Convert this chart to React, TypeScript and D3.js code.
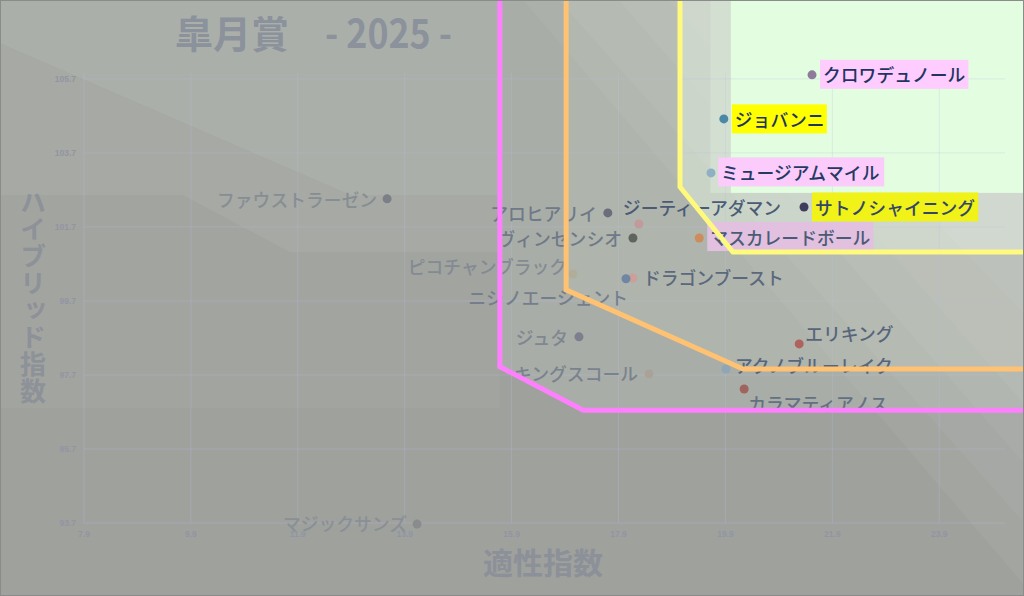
import React from 'react';
import * as d3 from 'd3';

const W = 1024;
const H = 596;

// ---- data ----
const horses = [
  'クロワデュノール', 'ジョバンニ', 'ミュージアムマイル', 'サトノシャイニング', 'マスカレードボール',
  'ジーティーアダマン', 'アロヒアリイ', 'ヴィンセンシオ', 'ピコチャンブラック', 'ドラゴンブースト',
  'ニシノエージェント', 'ファウストラーゼン', 'ジュタ', 'キングスコール', 'エリキング',
  'アクノブルーレイク', 'カラマティアノス', 'マジックサンズ',
];
const aptitude = [21.52, 19.87, 19.63, 21.37, 19.41, 18.28, 17.70, 18.17, 17.05, 18.17, 18.04, 13.57, 17.16, 18.47, 21.28, 19.91, 20.25, 14.13];
const hybrid = [105.81, 104.62, 103.16, 102.24, 101.40, 101.78, 102.08, 101.40, 100.43, 100.32, 100.30, 102.46, 98.73, 97.73, 98.54, 97.86, 97.32, 93.67];
const highlight = ['pink', 'yellow', 'pink', 'yellow', 'pink', null, null, null, null, null, null, null, null, null, null, null, null, null];

const xTicks = [7.9, 9.9, 11.9, 13.9, 15.9, 17.9, 19.9, 21.9, 23.9];
const yTicks = [93.7, 95.7, 97.7, 99.7, 101.7, 103.7, 105.7];
const xDomain = [7.9, 25.13];
const yDomain = [93.7, 105.86];

const title = '皐月賞';
const titleYear = '- 2025 -';
const xTitle = '適性指数';
const yTitle = 'ハイブリッド指数';

// zone boundary lines (data coords)
const pinkZone = [[15.68, 108.4], [15.68, 97.92], [17.24, 96.75], [25.8, 96.75]];
const orangeZone = [[16.92, 108.4], [16.92, 100.0], [20.23, 97.86], [25.8, 97.86]];
const yellowZone = [[19.05, 108.4], [19.05, 102.78], [20.04, 101.02], [25.8, 101.02]];
const greenZone = [[20.0, 102.62], [25.8, 108.4]];
const lightStrip = [[19.62, 102.62], [20.0, 108.4]];

// background shading bands (data coords)
const leftBands = [
  [[6.1, 102.56], [15.68, 102.56], [15.68, 96.81], [6.1, 96.81]],
  [[6.1, 106.81], [12.88, 102.56], [15.68, 102.56], [15.68, 101.02], [11.75, 101.02], [9.75, 102.56], [6.1, 102.56]],
  [[6.1, 108.4], [15.68, 108.4], [15.68, 102.56], [12.88, 102.56], [6.1, 106.81]],
];
const diagBands = [
  [[15.78, 108.4], [25.8, 108.4], [25.8, 91.5]],
  [[16.43, 108.4], [25.8, 108.4], [25.8, 93.2]],
  [[17.55, 108.4], [25.8, 108.4], [25.8, 94.8]],
  [[18.49, 108.4], [25.8, 108.4], [25.8, 96.4]],
  [[19.42, 108.4], [25.8, 108.4], [25.8, 98.9]],
];

// ---- styles ----
const leftBandFills = ['#a2a4a0', '#a6a9a4', '#abafa9'];
const dotColors = ['#8e7b9c', '#4a88a5', '#8fb0c4', '#3f3d5c', '#cc8c5c', '#c29a9c', '#6b6c7c', '#5f645e', '#b0ad9a', '#cc9f98', '#6f86a4', '#7c7f88', '#7d7e8e', '#a9a298', '#b0625e', '#8ea6b6', '#a0645f', '#8a8b8c'];
const labelDim = [0, 0, 0.04, 0.15, 0.33, 0.33, 0.6, 0.6, 0.75, 0.45, 0.65, 0.78, 0.72, 0.68, 0.42, 0.42, 0.52, 0.8];
// [anchor, dx, dy]
const labelPlace: [string, number, number][] = [
  ['start', 11, -0.5], ['start', 11, 0], ['start', 10, -1], ['start', 11, 0], ['start', 11, -1.5],
  ['start', -16, -17], ['end', -11, 0], ['end', -11, 0], ['end', -6, -8], ['start', 10, -1],
  ['end', 2, 18], ['end', -10, 0], ['end', -11, 0], ['end', -11, -1], ['start', 6, -11],
  ['start', 9, -4], ['start', 4, 14], ['end', -10, -1],
];

const FONT_JP = '"Noto Sans CJK JP", "Noto Sans", sans-serif';
const LABEL_SIZE = 17.8;

export default function App() {
  const x = d3.scaleLinear().domain(xDomain).range([84, 1005]);
  const y = d3.scaleLinear().domain(yDomain).range([523, 73]);
  const line = d3.line<number[]>().x((d) => x(d[0])).y((d) => y(d[1]));
  const poly = (pts: number[][]) => line(pts) + 'Z';
  const zoneFill = (pts: number[][]) => poly([...pts, [25.8, 108.4]]);
  const rectOf = (r: number[][]) => ({
    x: x(r[0][0]), y: y(r[1][1]), width: x(r[1][0]) - x(r[0][0]), height: y(r[0][1]) - y(r[1][1]),
  });
  const dimTarget = '#a4a7a2';

  const points = horses.map((name, i) => {
    const px = x(aptitude[i]);
    const py = y(hybrid[i]);
    const [anchor, dx, dy] = labelPlace[i];
    const tx = px + dx;
    const ty = py + dy;
    const w = name.length * LABEL_SIZE;
    const left = anchor === 'start' ? tx : tx - w;
    return { name, i, px, py, anchor, tx, ty, w, left };
  });

  return (
    <div style={{ position: 'fixed', left: 0, top: 0, width: W, height: H }}>
      <svg width={W} height={H} style={{ display: 'block' }}>
        <rect x={0} y={0} width={W} height={H} fill="#9fa19d" />
        {leftBands.map((b, i) => (
          <path key={'lb' + i} d={poly(b)} fill={leftBandFills[i]} />
        ))}
        <path d={zoneFill(pinkZone)} fill="#a9ada7" />
        <path d={zoneFill(orangeZone)} fill="#afb5ac" />
        <path d={zoneFill(yellowZone)} fill="#c7d3c5" />
        {diagBands.map((b, i) => (
          <path key={'db' + i} d={poly(b)} fill="#ffffff" fillOpacity={0.045} />
        ))}
        <rect {...rectOf(lightStrip)} fill="#d3e0d1" />
        <rect {...rectOf(greenZone)} fill="#e3fde0" />

        {/* grid */}
        <g stroke="#b9bfe6" strokeOpacity={0.28} strokeWidth={1}>
          {xTicks.map((t) => (
            <line key={'gx' + t} x1={x(t)} x2={x(t)} y1={y(yDomain[1])} y2={y(yDomain[0])} />
          ))}
          {yTicks.map((t) => (
            <line key={'gy' + t} x1={x(xDomain[0])} x2={x(xDomain[1])} y1={y(t)} y2={y(t)} />
          ))}
        </g>

        {/* tick labels */}
        <g fontFamily='"Liberation Sans", Arial, sans-serif' fontSize={8.5} fontWeight={700} fill="#9195a3">
          {xTicks.map((t) => (
            <text key={'tx' + t} x={x(t)} y={537} textAnchor="middle">{t.toFixed(1)}</text>
          ))}
          {yTicks.map((t) => (
            <text key={'ty' + t} x={76} y={y(t) + 3} textAnchor="end">{t.toFixed(1)}</text>
          ))}
        </g>

        {/* highlight boxes */}
        {points.filter((p) => highlight[p.i]).map((p) => {
          const base = highlight[p.i] === 'yellow' ? '#ffff00' : '#ffccff';
          return (
            <rect key={'hb' + p.i} x={p.left - 3} y={p.ty - 14.5} width={p.w + 6} height={29}
              fill={d3.interpolateRgb(base, dimTarget)(labelDim[p.i])} />
          );
        })}

        {/* dots */}
        {points.map((p) => (
          <circle key={'c' + p.i} cx={p.px} cy={p.py} r={4.5} fill={dotColors[p.i]} />
        ))}

        {/* labels */}
        <g fontFamily={FONT_JP} fontSize={LABEL_SIZE} fontWeight={500}>
          {points.map((p) => (
            <text key={'l' + p.i} x={p.tx} y={p.ty} textAnchor={p.anchor} dominantBaseline="central"
              fill={d3.interpolateRgb('#1f3560', dimTarget)(labelDim[p.i])}>
              {p.name}
            </text>
          ))}
        </g>

        {/* zone lines */}
        <path d={line(pinkZone) as string} fill="none" stroke="#ff80ff" strokeWidth={5} />
        <path d={line(orangeZone) as string} fill="none" stroke="#ffc172" strokeWidth={5} />
        <path d={line(yellowZone) as string} fill="none" stroke="#fff97e" strokeWidth={5} />

        {/* titles */}
        <text x={175} y={48} fontFamily={FONT_JP} fontSize={38} fontWeight={700} fill="#8b929c">{title}</text>
        <text x={325} y={48} fontFamily={FONT_JP} fontSize={40} fontWeight={700} fill="#8b929c"
          textLength={127} lengthAdjust="spacingAndGlyphs">{titleYear}</text>
        <text x={543} y={574} textAnchor="middle" fontFamily={FONT_JP} fontSize={30} fontWeight={700} fill="#8c9099">{xTitle}</text>
        <text x={33} y={189} fontFamily={FONT_JP} fontSize={26} fontWeight={700} fill="#8d9198"
          style={{ writingMode: 'vertical-rl', textOrientation: 'upright' } as React.CSSProperties}
          letterSpacing={1}>{yTitle}</text>

        <rect x={0.5} y={0.5} width={W - 1} height={H - 1} fill="none" stroke="#8a8c89" strokeWidth={1} />
      </svg>
    </div>
  );
}
